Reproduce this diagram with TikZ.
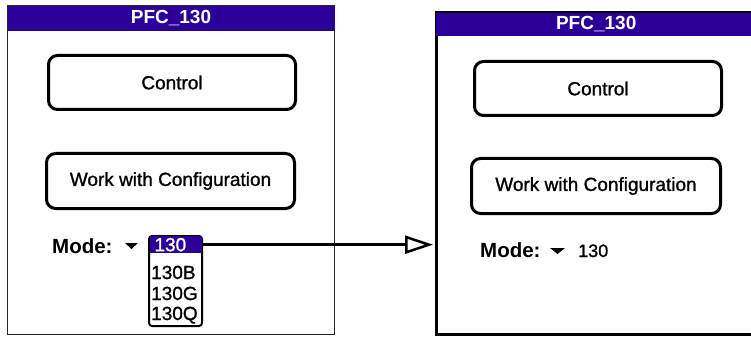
\documentclass[tikz,border=0pt]{standalone}
\usepackage{fontspec}
\setmainfont{Liberation Sans}
\newfontfamily\palmfont[FakeBold=1.2]{Liberation Sans}
\usetikzlibrary{arrows.meta,positioning}
\definecolor{palmblue}{RGB}{42,0,153}

\begin{document}
\begin{tikzpicture}[x=1pt, y=-1pt]
\tikzset{
    screen/.style={rectangle, draw=black, inner sep=0pt},
    titlebar/.style={rectangle, fill=palmblue, text=white, font=\fontsize{19}{19}\selectfont\bfseries, inner sep=0pt, minimum height=23pt},
    button/.style={rectangle, rounded corners=9pt, draw=black, line width=3pt, font=\fontsize{19}{19}\selectfont\palmfont, inner sep=0pt, minimum width=248pt, minimum height=55pt},
    modelabel/.style={font=\fontsize{20.5}{20.5}\selectfont\bfseries, inner sep=0pt, anchor=base west},
    item/.style={font=\fontsize{19}{19}\selectfont\palmfont, inner sep=0pt, anchor=base west},
    myarrow/.style={-{Triangle[open, length=28pt, width=18pt]}, line width=2.5pt, shorten >=1.5pt}
}
\useasboundingbox (0,0) rectangle (751,339);
\clip (0,0) rectangle (751,339);

% left screen, with the mode list open
\node[screen, line width=1pt, draw=black!85, minimum width=327pt, minimum height=328pt] (lscreen) at (171,170) {};
\node[titlebar, minimum width=327pt, minimum height=25pt, anchor=north] (ltitle) at (lscreen.north) {PFC\_130};
\node[button, minimum width=247pt, minimum height=54pt] (lcontrol) at (172,82.5) {Control};
\node[button] (lwork) at (170.5,181) {Work with Configuration};
\node[modelabel] (lmode) at (52,253) {Mode:};
\fill (125,243) -- (138,243) -- (131.5,249) -- cycle;
\node[rectangle, draw=black, line width=2pt, rounded corners=3pt, minimum width=53pt, minimum height=90pt] (llist) at (175.5,281) {};
\node[rectangle, fill=palmblue, text=white, font=\fontsize{19}{19}\selectfont\palmfont, inner ysep=0pt, inner xsep=5pt, text width=42pt, align=left, minimum height=17pt, anchor=north] (lsel) at ([yshift=-1pt]llist.north) {130};
\node[item] (lb) at (151,279) {130B};
\node[item] (lg) at (151,300) {130G};
\node[item] (lq) at (151,320) {130Q};

% right screen, after the choice
\node[screen, line width=3pt, minimum width=327pt, minimum height=322pt] (rscreen) at (599.5,173.5) {};
\node[titlebar, minimum width=320pt, anchor=north west] (rtitle) at ([xshift=1.5pt, yshift=-1.5pt]rscreen.north west) {PFC\_130};
\node[button, minimum width=247pt, minimum height=54pt] (rcontrol) at (598,88.5) {Control};
\node[button, minimum width=249pt] (rwork) at (596,186) {Work with Configuration};
\node[modelabel] (rmode) at (480,257) {Mode:};
\fill (550,248) -- (565,248) -- (557.5,254) -- cycle;
\node[item, font=\fontsize{18}{18}\selectfont\palmfont] (rvalue) at (578,257) {130};

\draw[myarrow] (lsel.east) -- (lsel.east -| rscreen.west);
\end{tikzpicture}
\end{document}
